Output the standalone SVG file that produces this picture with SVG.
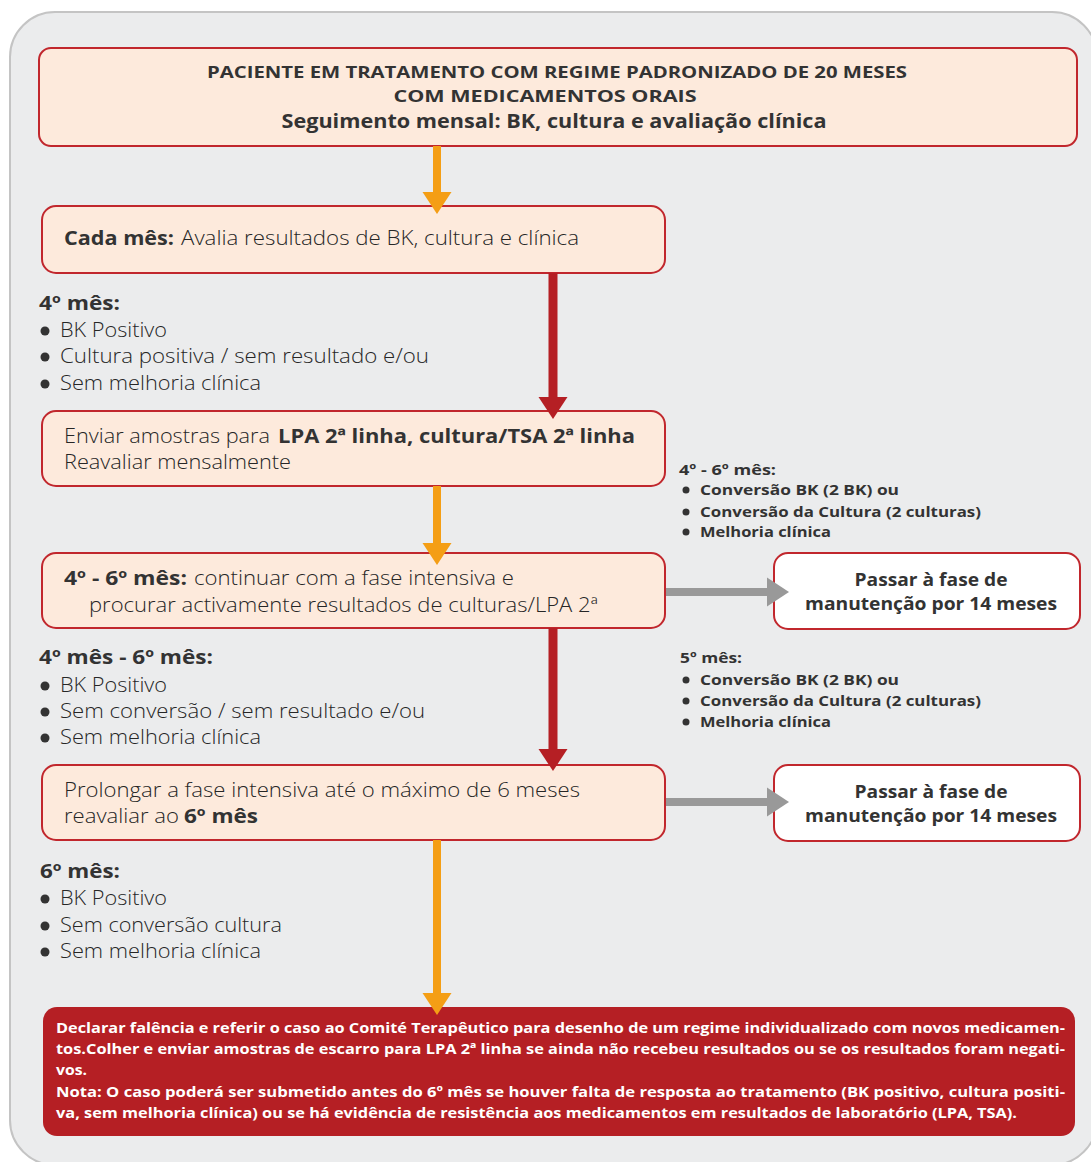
<svg xmlns="http://www.w3.org/2000/svg" width="1091" height="1162" viewBox="0 0 1091 1162">
  <style>
    .panel { fill: #ebeced; stroke: #c4c4c4; stroke-width: 2; }
    .step { fill: #fdeadc; stroke: #c1272d; stroke-width: 2; }
    .goal { fill: #ffffff; stroke: #c1272d; stroke-width: 2; }
    .fail { fill: #b51f24; }
    text { font-family: "Open Sans", "Liberation Sans", sans-serif; fill: #3a3a3a; }
    .body { font-size: 20px; font-weight: 300; fill: #262626; }
    .b { font-weight: bold; fill: #333333; }
    .small { font-size: 15px; font-weight: bold; fill: #333333; }
    .goalt { font-size: 18px; font-weight: bold; fill: #333333; text-anchor: middle; }
    .note { font-size: 15px; font-weight: bold; fill: #ffffff; }
    .dot { fill: #333333; }
    .orange { stroke: #f49e15; stroke-width: 8; fill: none; }
    .red { stroke: #b51f24; stroke-width: 9; fill: none; }
    .grey { stroke: #999999; stroke-width: 8; fill: none; }
  </style>
  <defs>
    <marker id="head-orange" markerUnits="userSpaceOnUse" markerWidth="22" markerHeight="30" viewBox="0 -15 22 30" refX="0" refY="0" orient="auto">
      <path d="M0,-14.5 L22,0 L0,14.5 z" fill="#f49e15"/>
    </marker>
    <marker id="head-red" markerUnits="userSpaceOnUse" markerWidth="22" markerHeight="30" viewBox="0 -15 22 30" refX="0" refY="0" orient="auto">
      <path d="M0,-14.5 L22,0 L0,14.5 z" fill="#b51f24"/>
    </marker>
    <marker id="head-grey" markerUnits="userSpaceOnUse" markerWidth="22" markerHeight="30" viewBox="0 -15 22 30" refX="0" refY="0" orient="auto">
      <path d="M0,-14.5 L22,0 L0,14.5 z" fill="#999999"/>
    </marker>
  </defs>

  <!-- background panel -->
  <rect class="panel" x="10" y="12" width="1087" height="1153" rx="45"/>

  <!-- nodes -->
  <g id="start">
    <rect class="step" x="39" y="48" width="1038" height="98" rx="12"/>
    <text class="b" x="557" y="78" font-size="16" text-anchor="middle" textLength="700" lengthAdjust="spacingAndGlyphs">PACIENTE EM TRATAMENTO COM REGIME PADRONIZADO DE 20 MESES</text>
    <text class="b" x="545" y="102" font-size="16" text-anchor="middle" textLength="303" lengthAdjust="spacingAndGlyphs">COM MEDICAMENTOS ORAIS</text>
    <text class="b" x="554" y="128" font-size="20" text-anchor="middle" textLength="545" lengthAdjust="spacingAndGlyphs">Seguimento mensal: BK, cultura e avaliação clínica</text>
  </g>

  <g id="monthly">
    <rect class="step" x="42" y="206" width="623" height="67" rx="14"/>
    <text class="body b" x="64" y="245" textLength="110" lengthAdjust="spacingAndGlyphs">Cada mês:</text>
    <text class="body" x="181" y="245" textLength="398" lengthAdjust="spacingAndGlyphs">Avalia resultados de BK, cultura e clínica</text>
  </g>

  <g id="samples">
    <rect class="step" x="42" y="411" width="623" height="75" rx="14"/>
    <text class="body" x="64" y="443" textLength="206" lengthAdjust="spacingAndGlyphs">Enviar amostras para</text>
    <text class="body b" x="278" y="443" textLength="357" lengthAdjust="spacingAndGlyphs">LPA 2ª linha, cultura/TSA 2ª linha</text>
    <text class="body" x="64" y="469" textLength="227" lengthAdjust="spacingAndGlyphs">Reavaliar mensalmente</text>
  </g>

  <g id="intensive">
    <rect class="step" x="42" y="553" width="623" height="75" rx="14"/>
    <text class="body b" x="64" y="585" textLength="123" lengthAdjust="spacingAndGlyphs">4º - 6º mês:</text>
    <text class="body" x="194" y="585" textLength="320" lengthAdjust="spacingAndGlyphs">continuar com a fase intensiva e</text>
    <text class="body" x="89" y="612" textLength="509" lengthAdjust="spacingAndGlyphs">procurar activamente resultados de culturas/LPA 2ª</text>
  </g>

  <g id="maintenance-a">
    <rect class="goal" x="774" y="553" width="306" height="76" rx="14"/>
    <text class="goalt" x="931" y="586" textLength="153" lengthAdjust="spacingAndGlyphs">Passar à fase de</text>
    <text class="goalt" x="931" y="610" textLength="252" lengthAdjust="spacingAndGlyphs">manutenção por 14 meses</text>
  </g>

  <g id="prolong">
    <rect class="step" x="42" y="765" width="623" height="75" rx="14"/>
    <text class="body" x="64" y="797" textLength="516" lengthAdjust="spacingAndGlyphs">Prolongar a fase intensiva até o máximo de 6 meses</text>
    <text class="body" x="64" y="823" textLength="115" lengthAdjust="spacingAndGlyphs">reavaliar ao</text>
    <text class="body b" x="184" y="823" textLength="74" lengthAdjust="spacingAndGlyphs">6º mês</text>
  </g>

  <g id="maintenance-b">
    <rect class="goal" x="774" y="765" width="306" height="76" rx="14"/>
    <text class="goalt" x="931" y="798" textLength="153" lengthAdjust="spacingAndGlyphs">Passar à fase de</text>
    <text class="goalt" x="931" y="822" textLength="252" lengthAdjust="spacingAndGlyphs">manutenção por 14 meses</text>
  </g>

  <g id="failure">
    <rect class="fail" x="43" y="1007" width="1032" height="129" rx="14"/>
    <text class="note" x="56" y="1033" textLength="1009" lengthAdjust="spacingAndGlyphs">Declarar falência e referir o caso ao Comité Terapêutico para desenho de um regime individualizado com novos medicamen-</text>
    <text class="note" x="56" y="1054" textLength="1009" lengthAdjust="spacingAndGlyphs">tos.Colher e enviar amostras de escarro para LPA 2ª linha se ainda não recebeu resultados ou se os resultados foram negati-</text>
    <text class="note" x="56" y="1075" textLength="31" lengthAdjust="spacingAndGlyphs">vos.</text>
    <text class="note" x="56" y="1097" textLength="1009" lengthAdjust="spacingAndGlyphs">Nota: O caso poderá ser submetido antes do 6º mês se houver falta de resposta ao tratamento (BK positivo, cultura positi-</text>
    <text class="note" x="56" y="1118" textLength="961" lengthAdjust="spacingAndGlyphs">va, sem melhoria clínica) ou se há evidência de resistência aos medicamentos em resultados de laboratório (LPA, TSA).</text>
  </g>

  <!-- condition labels -->
  <g id="cond-month4">
    <text class="body b" x="39" y="310" textLength="81" lengthAdjust="spacingAndGlyphs">4º mês:</text>
    <circle class="dot" cx="45" cy="331" r="4.5"/>
    <text class="body" x="60" y="337" textLength="107" lengthAdjust="spacingAndGlyphs">BK Positivo</text>
    <circle class="dot" cx="45" cy="357" r="4.5"/>
    <text class="body" x="60" y="363" textLength="369" lengthAdjust="spacingAndGlyphs">Cultura positiva / sem resultado e/ou</text>
    <circle class="dot" cx="45" cy="384" r="4.5"/>
    <text class="body" x="60" y="390" textLength="201" lengthAdjust="spacingAndGlyphs">Sem melhoria clínica</text>
  </g>

  <g id="cond-month4-6-ok">
    <text class="small" x="679" y="475" textLength="97" lengthAdjust="spacingAndGlyphs">4º - 6º mês:</text>
    <circle class="dot" cx="686" cy="490" r="3.5"/>
    <text class="small" x="700" y="495" textLength="199" lengthAdjust="spacingAndGlyphs">Conversão BK (2 BK) ou</text>
    <circle class="dot" cx="686" cy="512" r="3.5"/>
    <text class="small" x="700" y="517" textLength="281" lengthAdjust="spacingAndGlyphs">Conversão da Cultura (2 culturas)</text>
    <circle class="dot" cx="686" cy="532" r="3.5"/>
    <text class="small" x="700" y="537" textLength="131" lengthAdjust="spacingAndGlyphs">Melhoria clínica</text>
  </g>

  <g id="cond-month4-6">
    <text class="body b" x="39" y="664" textLength="174" lengthAdjust="spacingAndGlyphs">4º mês - 6º mês:</text>
    <circle class="dot" cx="45" cy="686" r="4.5"/>
    <text class="body" x="60" y="692" textLength="107" lengthAdjust="spacingAndGlyphs">BK Positivo</text>
    <circle class="dot" cx="45" cy="712" r="4.5"/>
    <text class="body" x="60" y="718" textLength="365" lengthAdjust="spacingAndGlyphs">Sem conversão / sem resultado e/ou</text>
    <circle class="dot" cx="45" cy="738" r="4.5"/>
    <text class="body" x="60" y="744" textLength="201" lengthAdjust="spacingAndGlyphs">Sem melhoria clínica</text>
  </g>

  <g id="cond-month5-ok">
    <text class="small" x="680" y="663" textLength="62" lengthAdjust="spacingAndGlyphs">5º mês:</text>
    <circle class="dot" cx="686" cy="680" r="3.5"/>
    <text class="small" x="700" y="685" textLength="199" lengthAdjust="spacingAndGlyphs">Conversão BK (2 BK) ou</text>
    <circle class="dot" cx="686" cy="701" r="3.5"/>
    <text class="small" x="700" y="706" textLength="281" lengthAdjust="spacingAndGlyphs">Conversão da Cultura (2 culturas)</text>
    <circle class="dot" cx="686" cy="722" r="3.5"/>
    <text class="small" x="700" y="727" textLength="131" lengthAdjust="spacingAndGlyphs">Melhoria clínica</text>
  </g>

  <g id="cond-month6">
    <text class="body b" x="40" y="878" textLength="80" lengthAdjust="spacingAndGlyphs">6º mês:</text>
    <circle class="dot" cx="45" cy="899" r="4.5"/>
    <text class="body" x="60" y="905" textLength="107" lengthAdjust="spacingAndGlyphs">BK Positivo</text>
    <circle class="dot" cx="45" cy="926" r="4.5"/>
    <text class="body" x="60" y="932" textLength="222" lengthAdjust="spacingAndGlyphs">Sem conversão cultura</text>
    <circle class="dot" cx="45" cy="952" r="4.5"/>
    <text class="body" x="60" y="958" textLength="201" lengthAdjust="spacingAndGlyphs">Sem melhoria clínica</text>
  </g>

  <!-- connectors -->
  <g id="connectors">
    <line class="orange" x1="437" y1="146" x2="437" y2="192" marker-end="url(#head-orange)"/>
    <line class="red" x1="553" y1="273" x2="553" y2="397" marker-end="url(#head-red)"/>
    <line class="orange" x1="437" y1="486" x2="437" y2="543" marker-end="url(#head-orange)"/>
    <line class="grey" x1="666" y1="592" x2="767" y2="592" marker-end="url(#head-grey)"/>
    <line class="red" x1="553" y1="628" x2="553" y2="749" marker-end="url(#head-red)"/>
    <line class="grey" x1="666" y1="802" x2="767" y2="802" marker-end="url(#head-grey)"/>
    <line class="orange" x1="437" y1="840" x2="437" y2="993" marker-end="url(#head-orange)"/>
  </g>
</svg>
